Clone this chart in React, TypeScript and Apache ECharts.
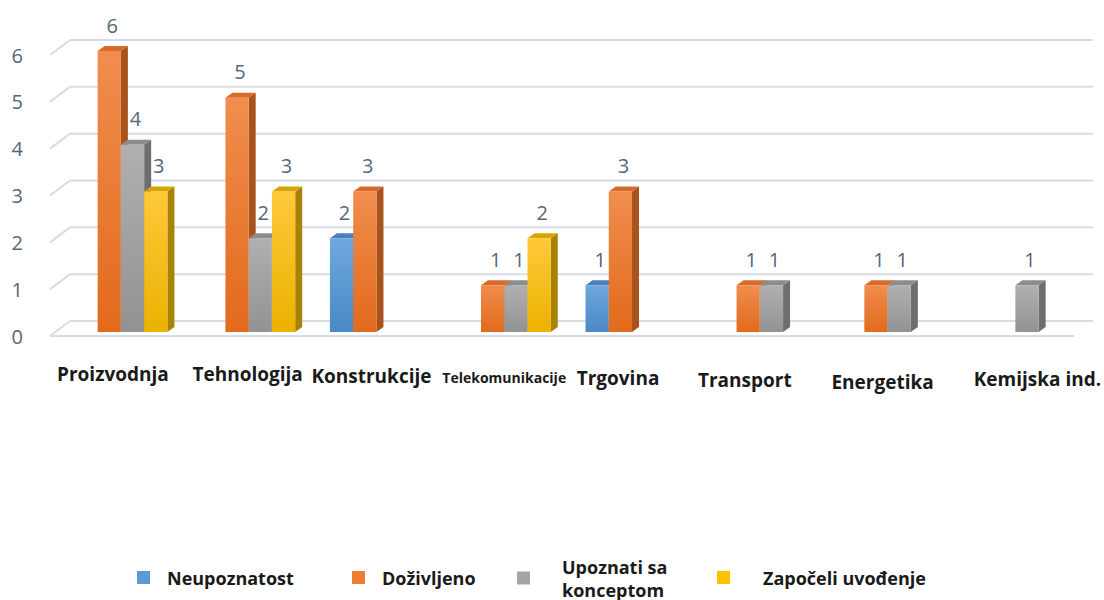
import React, { useEffect, useRef } from "react";
import * as echarts from "echarts";

const categories = [
  "Proizvodnja",
  "Tehnologija",
  "Konstrukcije",
  "Telekomunikacije",
  "Trgovina",
  "Transport",
  "Energetika",
  "Kemijska ind.",
];
const seriesNames = ["Neupoznatost", "Doživljeno", "Upoznati sa konceptom", "Započeli uvođenje"];
const neupoznatost = [null, null, 2, null, 1, null, null, null];
const dozivljeno = [6, 5, 3, 1, 3, 1, 1, null];
const upoznati = [4, 2, null, 1, null, 1, 1, 1];
const zapoceli = [3, 3, null, 2, null, null, null, null];
const yTicks = [0, 1, 2, 3, 4, 5, 6];

const seriesValues = [neupoznatost, dozivljeno, upoznati, zapoceli];
const palette = [
  { base: "#5B9BD5", top: "#6EA8DD", bottom: "#4A88C6", cap: "#4C80B8", side: "#3E6D9E" },
  { base: "#ED7D31", top: "#F08D4E", bottom: "#E26A1C", cap: "#D96A2A", side: "#A9531C" },
  { base: "#A5A5A5", top: "#B0B0B0", bottom: "#929292", cap: "#8C8C8C", side: "#6E6E6E" },
  { base: "#FFC000", top: "#FFC83A", bottom: "#EBB200", cap: "#D9A400", side: "#A88300" },
];

// label offsets: [dx, dy] relative to category center
const labelShift: [number, number][] = [
  [-8, 0],
  [-1, 0],
  [-5, 2],
  [0, 3],
  [-14, 4],
  [-15, 6],
  [-5, 8],
  [22, 5],
];

export default function App() {
  const ref = useRef<HTMLDivElement>(null);
  useEffect(() => {
    if (!ref.current) return;
    const chart = echarts.init(ref.current, null, { renderer: "svg" });
    const DEPTH = 7;
    const RISE = 5;
    const FRONT = -4;

    const barSeries = seriesValues.map((vals, si) => ({
      type: "custom",
      name: seriesNames[si],
      itemStyle: { color: palette[si].base },
      encode: { x: 0, y: 1 },
      z: 2,
      data: vals.map((v, i) => [i, v == null ? NaN : v]),
      renderItem: (params: any, api: any) => {
        const v = api.value(1);
        if (v == null || isNaN(v) || v === 0) return null;
        const ci = api.value(0);
        const band = api.size([1, 0])[0];
        const c0 = api.coord([ci, 0]);
        const c1 = api.coord([ci, v]);
        const w = band * 0.182;
        const x = c0[0] - 2 * w + si * w;
        const yB = c0[1] + FRONT;
        const yT = c1[1] + FRONT;
        const p = palette[si];
        return {
          type: "group",
          children: [
            {
              type: "polygon",
              shape: {
                points: [
                  [x + w, yT],
                  [x + w + DEPTH, yT - RISE],
                  [x + w + DEPTH, yB - RISE],
                  [x + w, yB],
                ],
              },
              style: { fill: p.side },
            },
            {
              type: "polygon",
              shape: {
                points: [
                  [x, yT],
                  [x + DEPTH, yT - RISE],
                  [x + w + DEPTH, yT - RISE],
                  [x + w, yT],
                ],
              },
              style: { fill: p.cap },
            },
            {
              type: "rect",
              shape: { x: x, y: yT, width: w, height: yB - yT },
              style: {
                fill: new echarts.graphic.LinearGradient(0, 0, 0, 1, [
                  { offset: 0, color: p.top },
                  { offset: 1, color: p.bottom },
                ]),
              },
            },
            {
              type: "text",
              z2: 100,
              style: {
                x: x + w / 2 + 3,
                y: yT - 26,
                text: String(v),
                fill: "#56667B",
                fontSize: 20,
                fontFamily: "Open Sans",
                align: "center",
                verticalAlign: "middle",
              },
            },
          ],
        };
      },
    }));

    const gridSeries = {
      type: "custom",
      name: "grid",
      z: 0,
      silent: true,
      encode: { x: 0, y: 1 },
      data: yTicks.map((t) => [0, t]),
      renderItem: (params: any, api: any) => {
        const t = api.value(1);
        const cs = params.coordSys;
        const y = api.coord([0, t])[1];
        const left = cs.x;
        const right = cs.x + cs.width;
        const lineStyle = { stroke: "#D8DCE5", lineWidth: 2 };
        const children: any[] = [
          { type: "line", shape: { x1: left - 7, y1: y, x2: left + 13, y2: y - 15 }, style: lineStyle },
          { type: "line", shape: { x1: left + 13, y1: y - 15, x2: right + 14, y2: y - 15 }, style: lineStyle },
        ];
        if (t === 0) {
          children.push({ type: "line", shape: { x1: left - 7, y1: y, x2: right - 5, y2: y }, style: lineStyle });
        }
        return { type: "group", children };
      },
    };

    const rich: any = {};
    categories.forEach((c, i) => {
      const [dx, dy] = labelShift[i];
      rich["c" + i] = {
        fontSize: i === 3 ? 14 : 19,
        fontWeight: "bold",
        fontFamily: "Open Sans",
        color: "#1A1A1A",
        padding: [dy + (i === 3 ? 3 : 0), dx < 0 ? -2 * dx : 0, 0, dx > 0 ? 2 * dx : 0],
      };
    });

    const mkLegend = (idx: number, left: number, top: number, gap: number, extra: any = {}) => ({
      icon: "rect",
      itemWidth: 13,
      itemHeight: 13,
      itemGap: 0,
      padding: 0,
      left,
      top,
      data: [seriesNames[idx]],
      selectedMode: false,
      textStyle: {
        fontSize: 18,
        fontWeight: "bold",
        fontFamily: "Open Sans",
        color: "#1A1A1A",
        padding: [0, 0, 0, gap],
        lineHeight: 23,
      },
      ...extra,
    });

    chart.setOption({
      animation: false,
      grid: { left: 57, right: 23, top: 55, bottom: 264, containLabel: false },
      xAxis: {
        type: "category",
        data: categories,
        axisLine: { show: false },
        axisTick: { show: false },
        axisLabel: {
          interval: 0,
          margin: 28,
          formatter: (val: string) => {
            const i = categories.indexOf(val);
            return "{c" + i + "|" + val + "}";
          },
          rich,
        },
      },
      yAxis: {
        type: "value",
        min: 0,
        max: 6,
        interval: 1,
        axisLine: { show: false },
        axisTick: { show: false },
        splitLine: { show: false },
        axisLabel: {
          margin: 34,
          fontSize: 20,
          fontFamily: "Open Sans",
          color: "#56667B",
        },
      },
      legend: [
        mkLegend(0, 137, 566, 12),
        mkLegend(1, 352, 566, 12),
        mkLegend(2, 517, 555, 27, { formatter: () => "Upoznati sa\nkonceptom" }),
        mkLegend(3, 717, 566, 28),
      ],
      series: [gridSeries, ...barSeries],
    });
    return () => chart.dispose();
  }, []);
  return <div ref={ref} style={{ width: 1104, height: 600, position: "absolute", left: 0, top: 0 }} />;
}
